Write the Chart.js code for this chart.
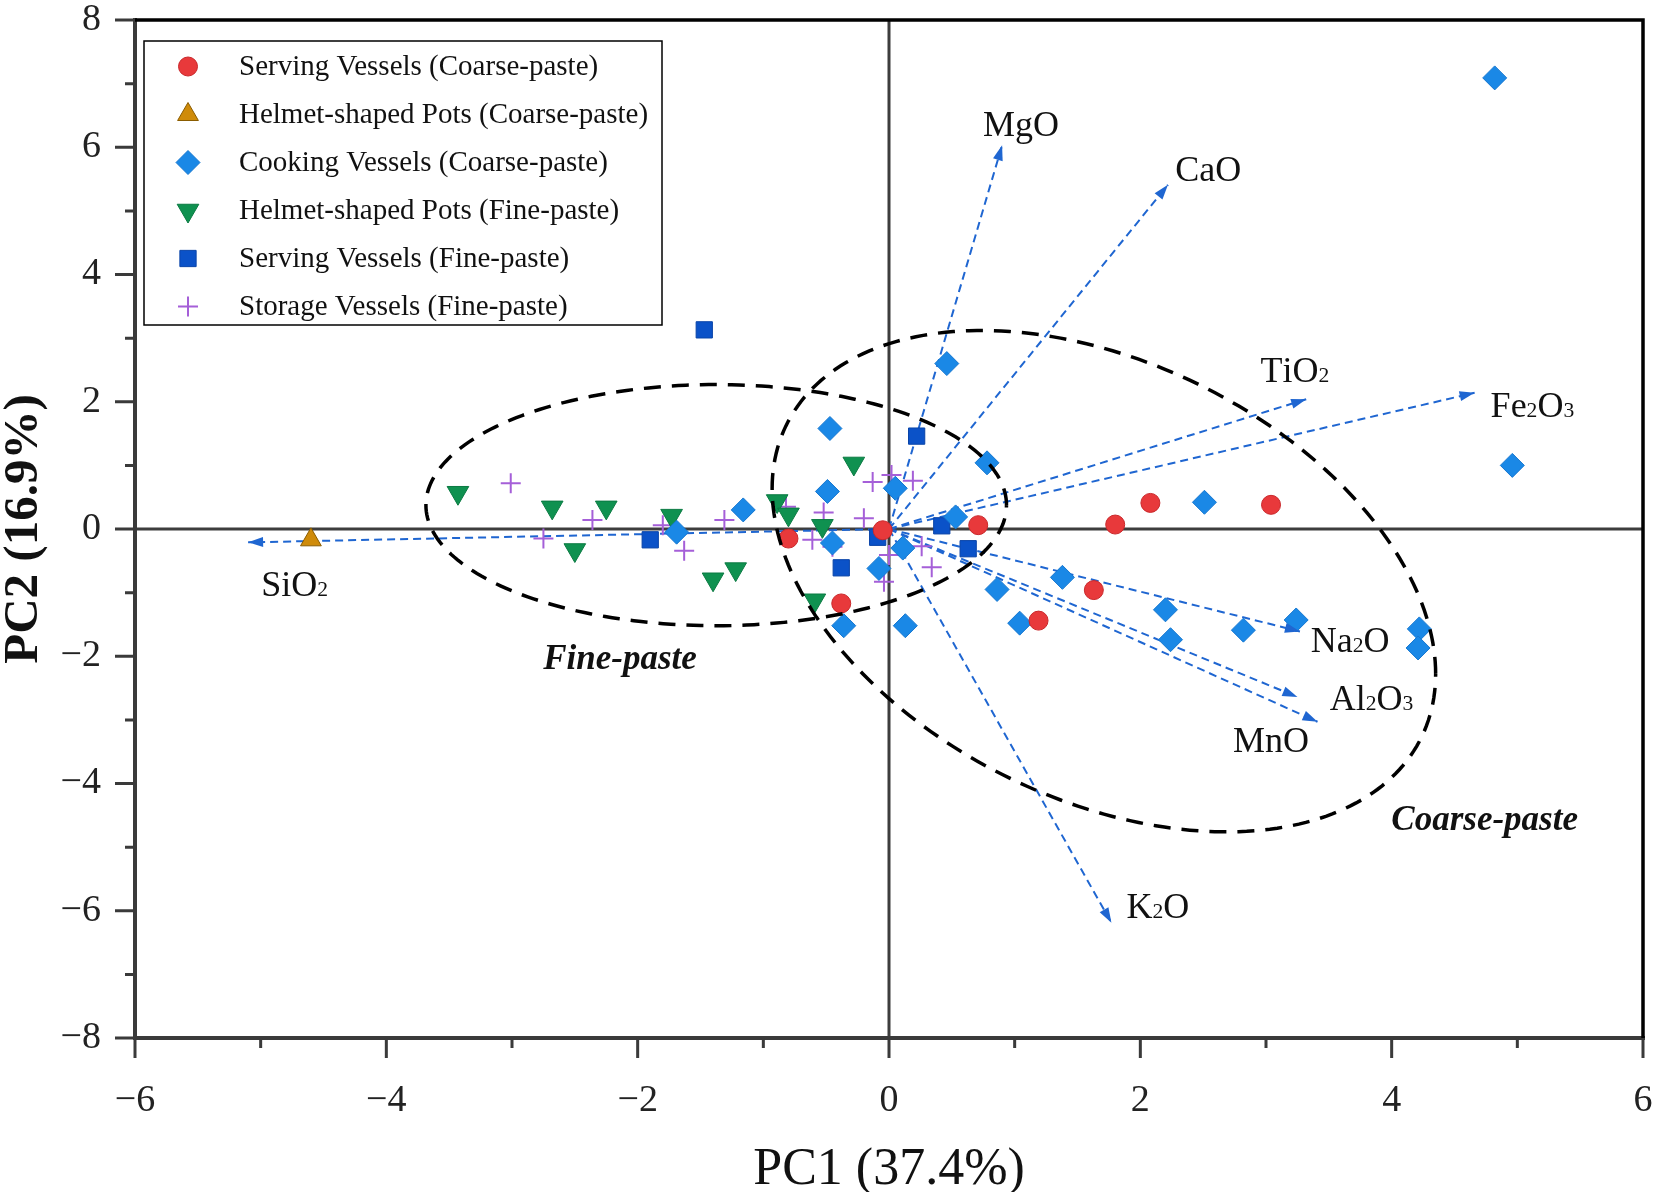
<!DOCTYPE html>
<html>
<head>
<meta charset="utf-8">
<script src="https://cdn.jsdelivr.net/npm/chart.js@4.4.1/dist/chart.umd.min.js"></script>
<style>
  html, body { margin: 0; padding: 0; background: #fff; }
  #wrap { width: 1657px; height: 1192px; }
</style>
</head>
<body>
<div id="wrap"><canvas id="pca" width="1657" height="1192"></canvas></div>
<script>
// PCA scores (PC1, PC2)
const servingCoarse = [
  [-0.80, -0.15], [-0.38, -1.17], [-0.05, -0.02], [0.71, 0.06], [1.80, 0.07],
  [2.08, 0.41], [3.04, 0.38], [1.63, -0.96], [1.19, -1.44]
];
const helmetCoarse = [[-4.60, -0.17]];
const cookingCoarse = [
  [4.82, 7.09], [4.96, 1.00], [0.46, 2.60], [-0.47, 1.58], [0.78, 1.04],
  [0.05, 0.64], [-0.49, 0.59], [-1.16, 0.30], [-1.69, -0.05], [-0.45, -0.22],
  [0.53, 0.19], [0.11, -0.30], [-0.08, -0.62], [-0.36, -1.52], [0.13, -1.52],
  [0.86, -0.95], [1.04, -1.48], [1.38, -0.76], [2.20, -1.27], [2.24, -1.74],
  [2.51, 0.42], [2.82, -1.59], [3.24, -1.43], [4.22, -1.57], [4.21, -1.87]
];
const helmetFine = [
  [-3.43, 0.57], [-2.68, 0.34], [-2.25, 0.34], [-2.50, -0.33], [-1.73, 0.21],
  [-1.40, -0.79], [-1.22, -0.63], [-0.89, 0.44], [-0.80, 0.23], [-0.53, 0.05],
  [-0.28, 1.03], [-0.59, -1.12]
];
const servingFine = [
  [-1.47, 3.13], [0.22, 1.46], [-1.90, -0.17], [-0.38, -0.61], [-0.09, -0.13],
  [0.42, 0.05], [0.63, -0.31]
];
const storageFine = [
  [-3.01, 0.72], [-2.75, -0.15], [-2.36, 0.14], [-1.80, 0.06], [-1.63, -0.34],
  [-1.31, 0.14], [-0.82, 0.35], [-0.52, 0.26], [-0.61, -0.17], [-0.45, -0.28],
  [-0.20, 0.17], [-0.13, 0.74], [0.02, 0.85], [0.19, 0.76], [0.26, -0.27],
  [0.34, -0.60], [-0.04, -0.83], [0.00, -0.41]
];

// loading vectors (arrow tips) and where their names sit
const loadingNames = ['MgO', 'CaO', 'TiO₂', 'Fe₂O₃', 'Na₂O', 'Al₂O₃', 'MnO', 'K₂O', 'SiO₂'];
const loadingTips = [
  [0.90, 6.03], [2.22, 5.41], [3.32, 2.04], [4.66, 2.14], [3.27, -1.61],
  [3.25, -2.64], [3.41, -3.03], [1.77, -6.19], [-5.10, -0.21]
];
const loadingLabelAt = [
  [1.05, 6.37], [2.54, 5.66], [3.23, 2.50], [5.12, 1.95], [3.67, -1.75],
  [3.84, -2.66], [3.04, -3.32], [2.14, -5.92], [-4.73, -0.87]
];

// group ellipses: centre, half width, half height, phase (deg)
const groupNames = ['Fine-paste', 'Coarse-paste'];
const groupLabelAt = [[-2.14, -2.06], [4.74, -4.59]];
const ellipseCentres = [[-1.375, 0.375], [1.71, -0.82]];
const ellipseHalfW = [2.31, 2.64];
const ellipseHalfH = [1.895, 3.94];
const ellipsePhase = [90, 111.7];

const xTicks = [-6, -4, -2, 0, 2, 4, 6];
const xMinor = [-5, -3, -1, 1, 3, 5];
const yTicks = [-8, -6, -4, -2, 0, 2, 4, 6, 8];
const yMinor = [-7, -5, -3, -1, 1, 3, 5, 7];

const FONT = '"Liberation Serif", "Times New Roman", serif';
Chart.defaults.font.family = FONT;

const toPts = (arr) => arr.map(([x, y]) => ({ x, y }));
const fmtTick = (v) => (v < 0 ? '\u2212' + Math.abs(v) : String(v));

// origin -> tip segments, separated by gaps
const loadingSegments = [];
loadingTips.forEach(([tx, ty]) => {
  loadingSegments.push({ x: 0, y: 0 }, { x: tx, y: ty }, { x: tx, y: null });
});

const SUBS = '₀₁₂₃₄₅₆₇₈₉';
function drawFormula(ctx, text, cx, cy, size) {
  const parts = [...text].map((ch) => {
    const d = SUBS.indexOf(ch);
    return d >= 0 ? { t: String(d), s: size * 0.6 } : { t: ch, s: size };
  });
  let total = 0;
  parts.forEach((p) => {
    ctx.font = p.s + 'px ' + FONT;
    p.w = ctx.measureText(p.t).width;
    total += p.w;
  });
  let xx = cx - total / 2;
  const base = cy + size * 0.33;
  ctx.textAlign = 'left';
  ctx.textBaseline = 'alphabetic';
  parts.forEach((p) => {
    ctx.font = p.s + 'px ' + FONT;
    ctx.fillText(p.t, xx, base);
    xx += p.w;
  });
}

const decorations = {
  id: 'decorations',
  beforeDatasetsDraw(chart) {
    const { ctx, chartArea: a, scales: { x, y } } = chart;
    const x0 = x.getPixelForValue(0);
    const y0 = y.getPixelForValue(0);
    ctx.save();
    ctx.strokeStyle = '#3d3d3d';
    ctx.lineWidth = 3;
    ctx.beginPath();
    ctx.moveTo(x0, a.top); ctx.lineTo(x0, a.bottom);
    ctx.moveTo(a.left, y0); ctx.lineTo(a.right, y0);
    ctx.stroke();
    ctx.restore();
  },
  afterDatasetsDraw(chart) {
    const { ctx, chartArea: a, scales: { x, y } } = chart;
    const x0 = x.getPixelForValue(0);
    const y0 = y.getPixelForValue(0);
    ctx.save();

    // arrow heads
    ctx.fillStyle = '#1f66d1';
    loadingTips.forEach(([tx, ty]) => {
      const px = x.getPixelForValue(tx);
      const py = y.getPixelForValue(ty);
      const ang = Math.atan2(py - y0, px - x0);
      const c = Math.cos(ang), s = Math.sin(ang);
      ctx.beginPath();
      ctx.moveTo(px, py);
      ctx.lineTo(px - 15 * c + 5 * s, py - 15 * s - 5 * c);
      ctx.lineTo(px - 15 * c - 5 * s, py - 15 * s + 5 * c);
      ctx.closePath();
      ctx.fill();
    });

    // loading names
    ctx.fillStyle = '#111';
    loadingNames.forEach((name, i) => {
      const [lx, ly] = loadingLabelAt[i];
      drawFormula(ctx, name, x.getPixelForValue(lx), y.getPixelForValue(ly), 36);
    });

    // group ellipses
    ctx.strokeStyle = '#000';
    ctx.lineWidth = 3.5;
    ctx.setLineDash([17, 11]);
    ellipseCentres.forEach(([cx, cy], i) => {
      const ph = ellipsePhase[i] * Math.PI / 180;
      ctx.beginPath();
      for (let k = 0; k <= 240; k++) {
        const t = (k / 240) * 2 * Math.PI;
        const px = x.getPixelForValue(cx + ellipseHalfW[i] * Math.cos(t));
        const py = y.getPixelForValue(cy + ellipseHalfH[i] * Math.cos(t - ph));
        if (k === 0) ctx.moveTo(px, py); else ctx.lineTo(px, py);
      }
      ctx.stroke();
    });
    ctx.setLineDash([]);

    ctx.font = 'italic bold 35px ' + FONT;
    ctx.textAlign = 'center';
    ctx.textBaseline = 'middle';
    ctx.fillStyle = '#111';
    groupNames.forEach((g, i) => {
      ctx.fillText(g, x.getPixelForValue(groupLabelAt[i][0]), y.getPixelForValue(groupLabelAt[i][1]));
    });

    // frame
    ctx.lineWidth = 4;
    ctx.strokeStyle = '#3a3a3a';
    ctx.beginPath();
    ctx.moveTo(a.left, a.top - 2); ctx.lineTo(a.left, a.bottom);
    ctx.lineTo(a.right + 2, a.bottom);
    ctx.stroke();
    ctx.strokeStyle = '#000';
    ctx.lineWidth = 3.5;
    ctx.beginPath();
    ctx.moveTo(a.left, a.top); ctx.lineTo(a.right, a.top); ctx.lineTo(a.right, a.bottom);
    ctx.stroke();

    // tick marks
    ctx.strokeStyle = '#3a3a3a';
    ctx.lineWidth = 3;
    ctx.beginPath();
    xTicks.forEach((v) => { const p = x.getPixelForValue(v); ctx.moveTo(p, a.bottom); ctx.lineTo(p, a.bottom + 20); });
    xMinor.forEach((v) => { const p = x.getPixelForValue(v); ctx.moveTo(p, a.bottom); ctx.lineTo(p, a.bottom + 10); });
    yTicks.forEach((v) => { const p = y.getPixelForValue(v); ctx.moveTo(a.left, p); ctx.lineTo(a.left - 20, p); });
    yMinor.forEach((v) => { const p = y.getPixelForValue(v); ctx.moveTo(a.left, p); ctx.lineTo(a.left - 10, p); });
    ctx.stroke();

    // legend box
    const box = { l: a.left + 9, t: a.top + 21, w: 518, h: 284 };
    ctx.fillStyle = '#fff';
    ctx.fillRect(box.l, box.t, box.w, box.h);
    ctx.strokeStyle = '#000';
    ctx.lineWidth = 1.5;
    ctx.strokeRect(box.l, box.t, box.w, box.h);
    chart.data.datasets.slice(0, 6).forEach((ds, i) => {
      const cy = box.t + 25.5 + 48 * i;
      ctx.fillStyle = ds.pointBackgroundColor || 'transparent';
      ctx.strokeStyle = ds.pointBorderColor;
      ctx.lineWidth = ds.pointBorderWidth;
      Chart.helpers.drawPoint(ctx, {
        pointStyle: ds.pointStyle,
        radius: ds.pointRadius,
        rotation: ds.pointRotation || 0,
        borderWidth: ds.pointBorderWidth
      }, box.l + 44, cy);
      ctx.fillStyle = '#111';
      ctx.font = '29px ' + FONT;
      ctx.textAlign = 'left';
      ctx.textBaseline = 'middle';
      ctx.fillText(ds.label, box.l + 95, cy + 1);
    });

    ctx.restore();
  }
};

new Chart(document.getElementById('pca'), {
  type: 'scatter',
  data: {
    datasets: [
      {
        label: 'Serving Vessels (Coarse-paste)',
        data: toPts(servingCoarse),
        pointStyle: 'circle', pointRadius: 9.5,
        pointBackgroundColor: '#e8393b', pointBorderColor: '#c9282b', pointBorderWidth: 1
      },
      {
        label: 'Helmet-shaped Pots (Coarse-paste)',
        data: toPts(helmetCoarse),
        pointStyle: 'triangle', pointRadius: 12,
        pointBackgroundColor: '#cf8b0a', pointBorderColor: '#8a5c00', pointBorderWidth: 1
      },
      {
        label: 'Cooking Vessels (Coarse-paste)',
        data: toPts(cookingCoarse),
        pointStyle: 'rectRot', pointRadius: 12,
        pointBackgroundColor: '#1a88e6', pointBorderColor: '#1677d0', pointBorderWidth: 1
      },
      {
        label: 'Helmet-shaped Pots (Fine-paste)',
        data: toPts(helmetFine),
        pointStyle: 'triangle', pointRotation: 180, pointRadius: 12.5,
        pointBackgroundColor: '#0f9150', pointBorderColor: '#0b7a42', pointBorderWidth: 1
      },
      {
        label: 'Serving Vessels (Fine-paste)',
        data: toPts(servingFine),
        pointStyle: 'rect', pointRadius: 11.5,
        pointBackgroundColor: '#0b52c8', pointBorderColor: '#0944a8', pointBorderWidth: 1
      },
      {
        label: 'Storage Vessels (Fine-paste)',
        data: toPts(storageFine),
        pointStyle: 'cross', pointRadius: 10,
        pointBackgroundColor: '#a55fd8', pointBorderColor: '#a55fd8', pointBorderWidth: 2
      },
      {
        label: 'Loadings',
        data: loadingSegments,
        showLine: true, spanGaps: false,
        borderColor: '#1f66d1', borderWidth: 2, borderDash: [8, 5],
        pointRadius: 0,
        order: 10
      }
    ]
  },
  options: {
    responsive: false,
    devicePixelRatio: 1,
    animation: false,
    layout: { padding: { left: 0, right: 14, top: 20, bottom: 0 } },
    plugins: { legend: { display: false }, tooltip: { enabled: false } },
    scales: {
      x: {
        type: 'linear', min: -6, max: 6,
        afterBuildTicks: (s) => { s.ticks = xTicks.map((v) => ({ value: v })); },
        afterFit: (s) => { s.height = 154; s.paddingLeft = 0; s.paddingRight = 0; },
        grid: { display: false, drawTicks: false },
        border: { display: false },
        ticks: {
          autoSkip: false, maxRotation: 0, padding: 40,
          color: '#222', font: { size: 38 },
          callback: (v) => fmtTick(v)
        },
        title: {
          display: true, text: 'PC1 (37.4%)', color: '#111',
          font: { size: 52, lineHeight: 0.85 }, padding: { top: 0, bottom: 0 }
        }
      },
      y: {
        type: 'linear', min: -8, max: 8,
        afterBuildTicks: (s) => { s.ticks = yTicks.map((v) => ({ value: v })); },
        afterFit: (s) => { s.width = 135; s.paddingTop = 0; s.paddingBottom = 0; },
        grid: { display: false, drawTicks: false },
        border: { display: false },
        ticks: {
          autoSkip: false, padding: 34,
          color: '#222', font: { size: 38 },
          callback: (v) => fmtTick(v)
        },
        title: {
          display: true, text: 'PC2 (16.9%)', color: '#111',
          font: { size: 49, weight: 'bold', lineHeight: 1 }, padding: { top: 0, bottom: 0 }
        }
      }
    }
  },
  plugins: [decorations]
});
</script>
</body>
</html>
